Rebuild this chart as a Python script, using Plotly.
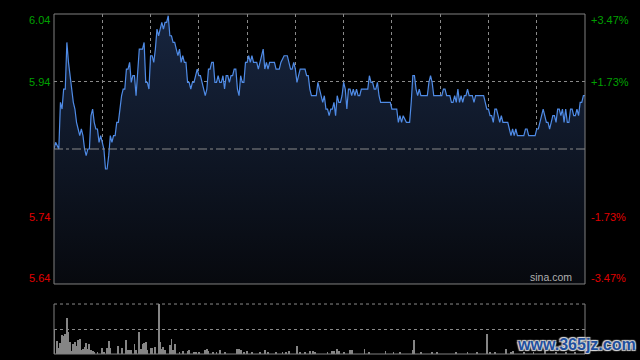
import plotly.graph_objects as go

# ---- reference levels ----
prev_close = 5.84
pct_outer = 0.0347
pct_inner = 0.01735

left_labels = ["6.04", "5.94", "5.74", "5.64"]
right_labels = ["+3.47%", "+1.73%", "-1.73%", "-3.47%"]

# ---- intraday price (minute offset from 09:30, HK session 330 min) ----
minutes = (
    [0, 1, 3, 4, 5, 6, 7, 8, 9, 10]
    + [11, 12, 13, 14, 15, 16, 17, 18, 19, 20]
    + [21, 22, 23, 24, 25, 26, 27, 28, 29, 30]
    + [31, 32, 33, 34, 35, 36, 37, 38, 39, 40]
    + [41, 42, 43, 44, 45, 46, 47, 48, 49, 50]
    + [51, 52, 53, 54, 55, 56, 57, 58, 59, 60]
    + [61, 62, 63, 64, 65, 66, 67, 68, 69, 70]
    + [71, 72, 73, 74, 75, 76, 77, 78, 79, 80]
    + [81, 82, 83, 84, 85, 86, 87, 89, 90, 91]
    + [92, 93, 94, 95, 96, 97, 98, 99, 100, 101]
    + [102, 103, 104, 105, 106, 107, 108, 109, 110, 111]
    + [112, 113, 114, 115, 116, 117, 118, 119, 120, 121]
    + [122, 123, 124, 125, 126, 127, 128, 129, 130, 131]
    + [132, 133, 134, 135, 137, 138, 139, 140, 141, 143]
    + [145, 146, 147, 148, 149, 150, 151, 152, 153, 155]
    + [156, 157, 158, 159, 160, 161, 163, 164, 165, 166]
    + [167, 168, 169, 170, 171, 172, 173, 174, 175, 176]
    + [177, 178, 179, 180, 181, 182, 183, 184, 185, 186]
    + [187, 188, 189, 190, 191, 195, 196, 197, 198, 199]
    + [200, 201, 202, 203, 209, 210, 213, 214, 215, 216]
    + [217, 219, 221, 222, 223, 224, 225, 226, 227, 228]
    + [232, 233, 234, 235, 236, 241, 242, 243, 244, 246]
    + [247, 248, 249, 250, 251, 252, 253, 254, 255, 256]
    + [257, 258, 260, 261, 262, 267, 268, 269, 270, 271]
    + [272, 273, 274, 275, 276, 277, 278, 279, 282, 283]
    + [284, 285, 286, 287, 288, 292, 293, 294, 295, 299]
    + [300, 301, 302, 304, 305, 306, 307, 308, 309, 310]
    + [311, 312, 313, 314, 315, 316, 317, 318, 319, 320]
    + [321, 322, 323, 324, 325, 326, 327, 328, 329, 330]
)
prices = (
    [5.84, 5.85, 5.84, 5.91, 5.90, 5.93, 5.93, 6.00, 5.97, 5.95]
    + [5.93, 5.91, 5.90, 5.88, 5.87, 5.86, 5.87, 5.86, 5.84, 5.83]
    + [5.84, 5.84, 5.89, 5.90, 5.88, 5.87, 5.87, 5.85, 5.86, 5.85]
    + [5.84, 5.81, 5.81, 5.83, 5.86, 5.85, 5.86, 5.86, 5.88, 5.88]
    + [5.90, 5.92, 5.93, 5.93, 5.96, 5.96, 5.97, 5.94, 5.95, 5.95]
    + [5.92, 5.95, 5.99, 5.99, 5.99, 6.00, 5.94, 5.94, 5.93, 5.98]
    + [5.98, 5.97, 5.99, 6.02, 6.01, 6.02, 6.03, 6.02, 6.03, 6.03]
    + [6.04, 6.01, 6.01, 6.00, 6.00, 5.99, 5.98, 5.99, 5.97, 5.98]
    + [5.97, 5.97, 5.94, 5.94, 5.93, 5.94, 5.94, 5.96, 5.95, 5.95]
    + [5.94, 5.93, 5.92, 5.93, 5.96, 5.96, 5.97, 5.97, 5.94, 5.94]
    + [5.95, 5.94, 5.94, 5.95, 5.93, 5.95, 5.95, 5.94, 5.95, 5.95]
    + [5.96, 5.96, 5.93, 5.92, 5.95, 5.94, 5.94, 5.97, 5.97, 5.98]
    + [5.97, 5.98, 5.97, 5.97, 5.97, 5.96, 5.97, 5.98, 5.99, 5.96]
    + [5.97, 5.96, 5.97, 5.97, 5.97, 5.96, 5.96, 5.96, 5.97, 5.98]
    + [5.98, 5.97, 5.96, 5.96, 5.97, 5.96, 5.94, 5.95, 5.96, 5.96]
    + [5.96, 5.95, 5.95, 5.93, 5.92, 5.92, 5.92, 5.94, 5.93, 5.92]
    + [5.91, 5.92, 5.90, 5.90, 5.89, 5.90, 5.90, 5.91, 5.89, 5.92]
    + [5.91, 5.91, 5.92, 5.94, 5.93, 5.90, 5.93, 5.93, 5.92, 5.93]
    + [5.92, 5.93, 5.92, 5.92, 5.93, 5.93, 5.95, 5.94, 5.94, 5.93]
    + [5.93, 5.94, 5.92, 5.91, 5.91, 5.90, 5.90, 5.88, 5.89, 5.88]
    + [5.89, 5.88, 5.88, 5.91, 5.95, 5.95, 5.93, 5.92, 5.93, 5.92]
    + [5.92, 5.94, 5.95, 5.94, 5.92, 5.92, 5.93, 5.93, 5.92, 5.92]
    + [5.91, 5.91, 5.92, 5.91, 5.93, 5.91, 5.92, 5.91, 5.92, 5.92]
    + [5.93, 5.92, 5.92, 5.91, 5.92, 5.92, 5.91, 5.90, 5.90, 5.89]
    + [5.89, 5.88, 5.90, 5.90, 5.89, 5.88, 5.89, 5.88, 5.88, 5.87]
    + [5.86, 5.87, 5.86, 5.87, 5.86, 5.86, 5.87, 5.87, 5.86, 5.86]
    + [5.87, 5.87, 5.88, 5.90, 5.89, 5.88, 5.88, 5.87, 5.88, 5.89]
    + [5.89, 5.88, 5.90, 5.90, 5.89, 5.90, 5.88, 5.90, 5.88, 5.88]
    + [5.90, 5.90, 5.89, 5.89, 5.90, 5.89, 5.91, 5.91, 5.92, 5.92]
)

# ---- volume bars ----
vol_minutes = (
    [0, 2, 3, 4, 5, 6, 7, 8, 9, 10]
    + [11, 12, 13, 14, 15, 16, 17, 18, 19, 20]
    + [21, 22, 23, 24, 25, 27, 30, 31, 33, 34]
    + [35, 40, 42, 45, 46, 47, 48, 50, 51, 53]
    + [54, 55, 56, 57, 58, 60, 61, 63, 65, 66]
    + [67, 68, 69, 72, 73, 74, 75, 78, 80, 83]
    + [84, 87, 88, 90, 94, 95, 96, 99, 101, 103]
    + [106, 114, 115, 116, 118, 120, 123, 128, 131, 133]
    + [138, 142, 144, 146, 151, 153, 156, 159, 161, 162]
    + [170, 173, 174, 176, 177, 180, 184, 185, 193, 196]
    + [206, 211, 215, 223, 224, 228, 235, 238, 250, 257]
    + [263, 269, 271, 274, 281, 284, 285, 292, 298, 305]
    + [312, 318, 324]
)
vol_values = (
    [75, 40, 18, 33, 58, 53, 61, 108, 65, 35]
    + [10, 31, 37, 23, 43, 46, 11, 15, 21, 33]
    + [16, 30, 13, 8, 3, 3, 18, 5, 18, 40]
    + [18, 25, 18, 43, 13, 13, 13, 31, 13, 65]
    + [15, 31, 33, 35, 13, 18, 18, 21, 150, 35]
    + [15, 21, 13, 28, 45, 11, 31, 5, 10, 8]
    + [13, 7, 7, 7, 13, 15, 8, 5, 7, 13]
    + [7, 16, 16, 11, 5, 8, 7, 5, 13, 7]
    + [3, 5, 6, 10, 25, 3, 5, 10, 10, 5]
    + [6, 8, 10, 15, 8, 7, 11, 13, 15, 5]
    + [9, 7, 5, 13, 43, 5, 5, 5, 7, 5]
    + [5, 61, 7, 7, 15, 7, 10, 6, 5, 8]
    + [6, 7, 5]
)

y_top = prev_close * (1 + pct_outer)
y_bot = prev_close * (1 - pct_outer)
y_hi = prev_close * (1 + pct_inner)
y_lo = prev_close * (1 - pct_inner)
label_levels = [y_top, y_hi, y_lo, y_bot]
label_shift = [-6, 0, 0, 6]
label_colors = ["#00a000", "#00a000", "#e00000", "#e00000"]

GRID = "#8a8a8a"
BORDER = "#808080"

fig = go.Figure()

fig.add_trace(go.Scatter(
    x=minutes, y=prices, mode="lines",
    line=dict(color="#4f8be6", width=1.2),
    fill="tozeroy",
    fillgradient=dict(type="vertical",
                      colorscale=[[0, "#07090e"], [1, "#17253f"]],
                      start=y_bot, stop=y_top),
    xaxis="x", yaxis="y", hoverinfo="skip",
))

fig.add_trace(go.Bar(
    x=vol_minutes, y=vol_values, width=0.55,
    marker=dict(color="#858585", line=dict(width=0)),
    xaxis="x2", yaxis="y2", hoverinfo="skip",
))

fig.update_layout(
    width=640, height=360,
    margin=dict(l=54, r=55, t=14, b=6),
    paper_bgcolor="#000000", plot_bgcolor="#000000",
    showlegend=False,
    font=dict(family="Liberation Sans, Arial, sans-serif", size=11),
    xaxis=dict(domain=[0, 1], range=[0, 330], tickvals=[30 * i for i in range(1, 11)],
               showticklabels=False, showgrid=True, gridcolor=GRID, griddash="dot",
               gridwidth=1, zeroline=False, showline=False, ticks=""),
    yaxis=dict(domain=[0.2059, 1], range=[y_bot, y_top], tickvals=[y_lo, y_hi],
               showticklabels=False, showgrid=True, gridcolor=GRID, griddash="dot",
               gridwidth=1, zeroline=False, showline=False, ticks=""),
    xaxis2=dict(domain=[0, 1], range=[0, 330], anchor="y2", showticklabels=False,
                showgrid=False, zeroline=False, showline=False, ticks=""),
    yaxis2=dict(domain=[0, 0.147], range=[0, 150], anchor="x2", tickvals=[75],
                showticklabels=False, showgrid=True, gridcolor=GRID, griddash="dot",
                zeroline=False, showline=False, ticks=""),
    bargap=0,
)

shapes = [
    dict(type="line", xref="x domain", yref="y", x0=0, x1=1, y0=prev_close, y1=prev_close,
         line=dict(color="#8a8a8a", width=1, dash="dashdot")),
    dict(type="rect", xref="x domain", yref="y domain", x0=0, x1=1, y0=0, y1=1,
         line=dict(color=BORDER, width=1)),
    dict(type="line", xref="x2 domain", yref="y2 domain", x0=0, x1=1, y0=1, y1=1,
         line=dict(color=GRID, width=1, dash="dot")),
    dict(type="line", xref="x2 domain", yref="y2 domain", x0=0, x1=1, y0=0, y1=0,
         line=dict(color=BORDER, width=1)),
    dict(type="line", xref="x2 domain", yref="y2 domain", x0=0, x1=0, y0=0, y1=1,
         line=dict(color=BORDER, width=1)),
    dict(type="line", xref="x2 domain", yref="y2 domain", x0=1, x1=1, y0=0, y1=1,
         line=dict(color=BORDER, width=1)),
]
fig.update_layout(shapes=shapes)

annotations = []
for txt, lvl, sh, col in zip(left_labels, label_levels, label_shift, label_colors):
    annotations.append(dict(text=txt, xref="paper", x=0, xanchor="right", xshift=-2,
                            yref="y", y=lvl, yanchor="middle", yshift=sh,
                            showarrow=False, font=dict(color=col, size=11)))
for txt, lvl, sh, col in zip(right_labels, label_levels, label_shift, label_colors):
    annotations.append(dict(text=txt, xref="paper", x=1, xanchor="left", xshift=4,
                            yref="y", y=lvl, yanchor="middle", yshift=sh,
                            showarrow=False, font=dict(color=col, size=11)))
annotations.append(dict(text="sina.com", xref="paper", x=1, xanchor="right", xshift=-11,
                        yref="y", y=y_bot, yanchor="bottom", yshift=-1,
                        showarrow=False, font=dict(color="#b0b0b0", size=10.5)))
annotations.append(dict(text="www.365jz.com", xref="paper", x=1, xanchor="center", xshift=-9,
                        yref="paper", y=0, yanchor="middle", yshift=10,
                        showarrow=False,
                        font=dict(color="#1f4f9e", size=16, family="Liberation Sans, Arial",
                                  weight="bold",
                                  shadow="-1px -1px 1px #d8d8d8, 1px -1px 1px #d8d8d8, -1px 1px 1px #d8d8d8, 1px 1px 1px #d8d8d8")))
fig.update_layout(annotations=annotations)

fig.write_html("out.html",
               config={"displayModeBar": False},
               post_script="document.body.style.margin='0px';document.body.style.background='#000';")
